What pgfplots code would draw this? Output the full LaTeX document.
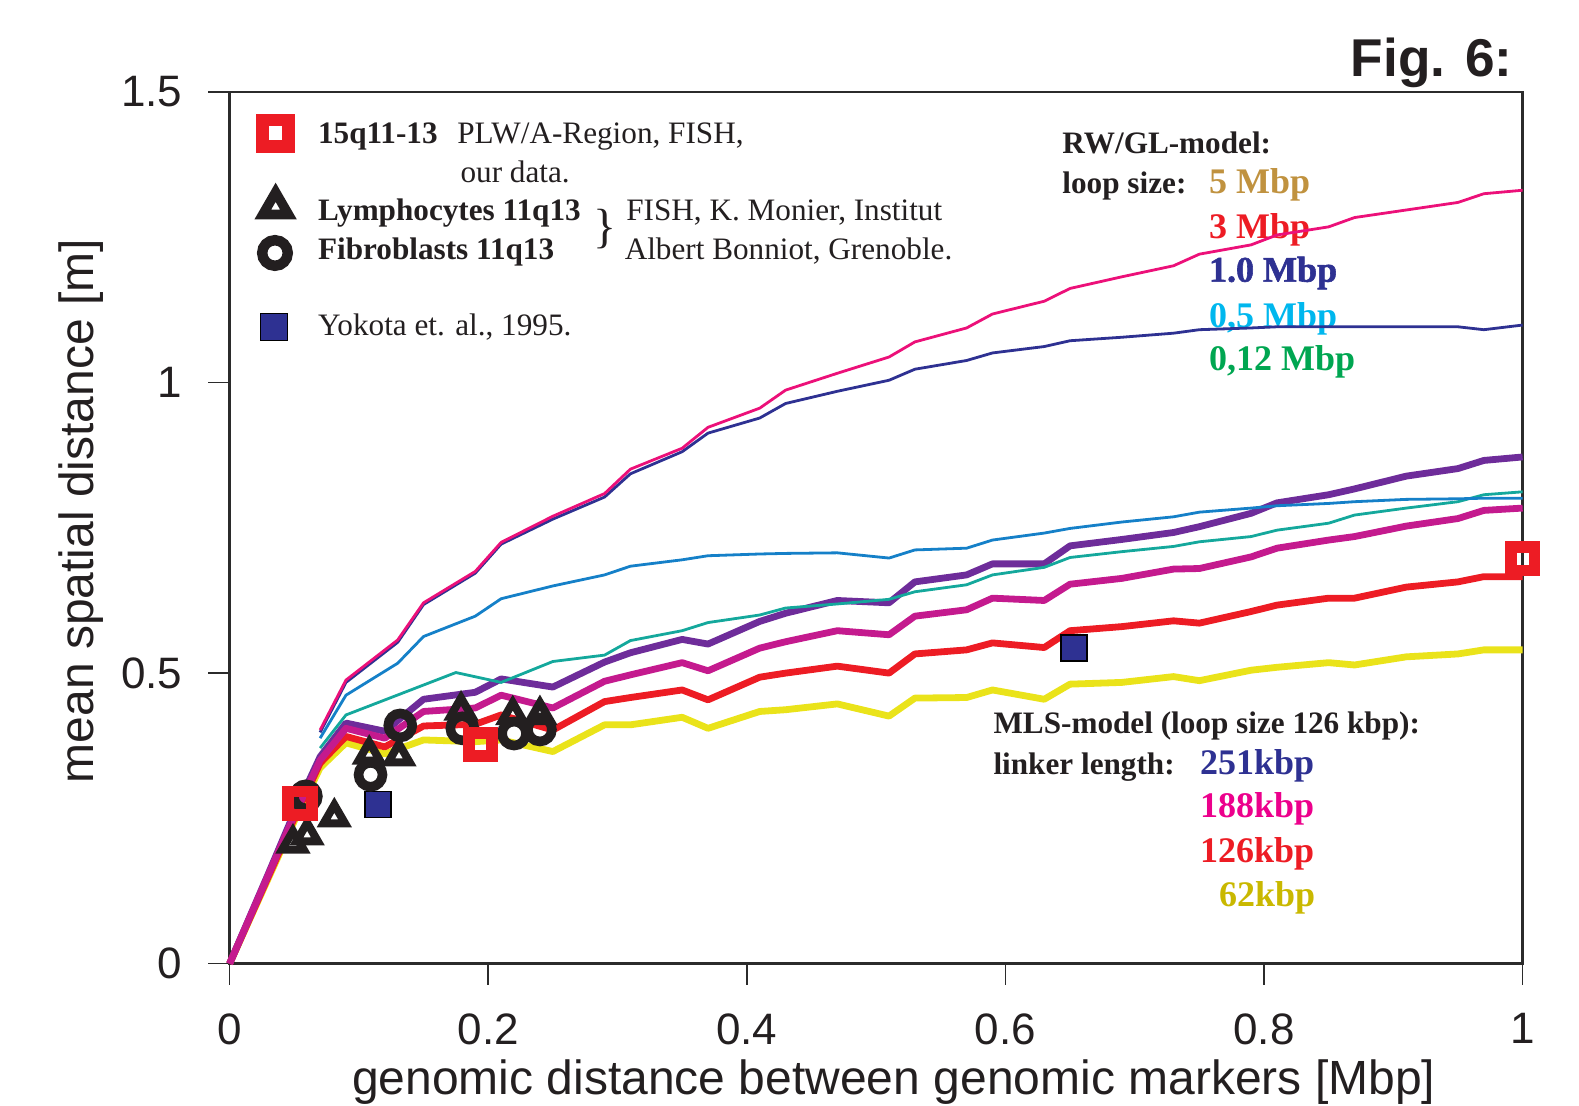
\documentclass[border=0pt]{standalone}
\usepackage{fontspec}
\setmainfont{Liberation Serif}
\setsansfont{Liberation Sans}
\newfontface\heavyserif[FakeBold=1.6]{Liberation Serif Bold}
\usepackage{pgfplots}
\pgfplotsset{compat=1.18}
\definecolor{axisgray}{HTML}{2B2B2B}
\definecolor{txtblack}{HTML}{231F20}
\definecolor{lpink}{HTML}{EC1079}
\definecolor{ldblue}{HTML}{2E3192}
\definecolor{llblue}{HTML}{1580C8}
\definecolor{lteal}{HTML}{14A89C}
\definecolor{lpurple}{HTML}{6E2C9A}
\definecolor{lmagenta}{HTML}{C41A8E}
\definecolor{lred}{HTML}{ED1C24}
\definecolor{lyellow}{HTML}{EAE31A}
\definecolor{ttan}{HTML}{C0923F}
\definecolor{tcyan}{HTML}{00B7EE}
\definecolor{tgreen}{HTML}{00A651}
\definecolor{tmag}{HTML}{EC008C}
\definecolor{tolive}{HTML}{C9B800}
\newcommand{\lgS}{\fontsize{7.8}{9}\selectfont}
\newcommand{\lgL}{\fontsize{9}{11}\selectfont}
\begin{document}
\begin{tikzpicture}
\begin{axis}[
  scale only axis, width=323.25pt, height=217.9pt,
  xmin=0, xmax=1, ymin=0, ymax=1.5,
  xtick={0,0.2,0.4,0.6,0.8,1}, ytick={0,0.5,1,1.5},
  tick align=outside, xtick pos=lower, ytick pos=left,
  major tick length=5.3pt,
  axis line style={line width=0.6pt, draw=axisgray},
  every tick/.style={line width=0.4pt, draw=axisgray},
  ticklabel style={font=\fontsize{11}{13}\selectfont\sffamily, text=txtblack},
  /pgf/number format/assume math mode=true,
  yticklabel style={xshift=-3pt},
  xticklabel style={yshift=-3.6pt},
  clip=false,
]
\coordinate (bbBL) at (axis cs:-0.17757,-0.24488);
\coordinate (bbTR) at (axis cs:1.04362,1.65841);

% ---- legend texts
\node[anchor=base west, font=\lgS\bfseries, text=txtblack, inner sep=0pt] at (axis cs:0.0678,1.4118) {15q11-13};
\node[anchor=base west, font=\lgS, text=txtblack, inner sep=0pt] at (axis cs:0.1755,1.4118) {PLW/A-Region, FISH,};
\node[anchor=base west, font=\lgS, text=txtblack, inner sep=0pt] at (axis cs:0.1780,1.3440) {our data.};
\node[anchor=base west, font=\lgS\bfseries, text=txtblack, inner sep=0pt] at (axis cs:0.0678,1.2790) {Lymphocytes 11q13};
\node[anchor=base west, font=\lgS\bfseries, text=txtblack, inner sep=0pt] at (axis cs:0.0678,1.2115) {Fibroblasts 11q13};
\node[font=\fontsize{12}{12}\selectfont, text=txtblack, inner sep=0pt] at (axis cs:0.2903,1.2640) {\}};
\node[anchor=base west, font=\lgS, text=txtblack, inner sep=0pt] at (axis cs:0.3062,1.2790) {FISH, K. Monier, Institut};
\node[anchor=base west, font=\lgS, text=txtblack, inner sep=0pt] at (axis cs:0.3050,1.2115) {Albert Bonniot, Grenoble.};
\node[anchor=base west, font=\lgS, text=txtblack, inner sep=0pt] at (axis cs:0.0678,1.0807) {Yokota et. al., 1995.};

\node[anchor=base west, font=\lgS\bfseries, text=txtblack, inner sep=0pt] at (axis cs:0.6435,1.3946) {RW/GL-model:};
\node[anchor=base west, font=\lgS\bfseries, text=txtblack, inner sep=0pt] at (axis cs:0.6435,1.3250) {loop size:};
\node[anchor=base west, font=\lgL\bfseries, text=ttan, inner sep=0pt] at (axis cs:0.7569,1.3250) {5 Mbp};
\node[anchor=base west, font=\lgL\bfseries, text=lred, inner sep=0pt] at (axis cs:0.7569,1.2480) {3 Mbp};
\node[anchor=base west, font=\lgL\heavyserif, text=ldblue, inner sep=0pt] at (axis cs:0.7569,1.1736) {1.0 Mbp};
\node[anchor=base west, font=\lgL\bfseries, text=tcyan, inner sep=0pt] at (axis cs:0.7569,1.0956) {0,5 Mbp};
\node[anchor=base west, font=\lgL\bfseries, text=tgreen, inner sep=0pt] at (axis cs:0.7569,1.0211) {0,12 Mbp};

\node[anchor=base west, font=\lgS\bfseries, text=txtblack, inner sep=0pt] at (axis cs:0.5902,0.3953) {MLS-model (loop size 126 kbp):};
\node[anchor=base west, font=\lgS\bfseries, text=txtblack, inner sep=0pt] at (axis cs:0.5902,0.3260) {linker length:};
\node[anchor=base west, font=\lgL\bfseries, text=ldblue, inner sep=0pt] at (axis cs:0.7500,0.3260) {251kbp};
\node[anchor=base west, font=\lgL\bfseries, text=tmag, inner sep=0pt] at (axis cs:0.7500,0.2510) {188kbp};
\node[anchor=base west, font=\lgL\bfseries, text=lred, inner sep=0pt] at (axis cs:0.7500,0.1740) {126kbp};
\node[anchor=base west, font=\lgL\bfseries, text=tolive, inner sep=0pt] at (axis cs:0.7647,0.0990) {62kbp};

% ---- title and axis labels
\node[anchor=base east, font=\fontsize{13.3}{15}\selectfont\sffamily\bfseries, text=txtblack, inner sep=0pt] at (axis cs:0.9928,1.5276) {Fig. 6:};
\node[rotate=90, anchor=base, font=\fontsize{12}{14}\selectfont\sffamily, text=txtblack, inner sep=0pt] at (axis cs:-0.1054,0.779) {mean spatial distance [m]};
\node[anchor=base, font=\fontsize{12}{14}\selectfont\sffamily, text=txtblack, inner sep=0pt] at (axis cs:0.5136,-0.2253) {genomic distance between genomic markers [Mbp]};

% ---- MLS model (thick)
\addplot[lyellow, line width=1.7pt, line join=round] coordinates {
(0,0)(0.03,0.147)(0.05,0.245)(0.07,0.337)(0.09,0.380)(0.12,0.361)(0.15,0.385)(0.19,0.382)(0.21,0.385)(0.25,0.365)(0.29,0.411)(0.31,0.411)(0.35,0.424)(0.37,0.405)(0.41,0.434)(0.43,0.437)(0.47,0.447)(0.51,0.426)(0.53,0.457)(0.57,0.458)(0.59,0.471)(0.63,0.455)(0.65,0.481)(0.69,0.484)(0.73,0.494)(0.75,0.487)(0.79,0.505)(0.81,0.510)(0.85,0.518)(0.87,0.514)(0.91,0.528)(0.95,0.533)(0.97,0.540)(1.00,0.540)};
\addplot[lred, line width=1.7pt, line join=round] coordinates {
(0,0)(0.03,0.150)(0.05,0.250)(0.07,0.345)(0.09,0.391)(0.12,0.373)(0.15,0.409)(0.19,0.412)(0.21,0.428)(0.25,0.402)(0.29,0.451)(0.31,0.458)(0.35,0.471)(0.37,0.454)(0.41,0.493)(0.43,0.500)(0.47,0.512)(0.51,0.500)(0.53,0.533)(0.57,0.540)(0.59,0.552)(0.63,0.544)(0.65,0.573)(0.69,0.580)(0.73,0.590)(0.75,0.586)(0.79,0.606)(0.81,0.617)(0.85,0.629)(0.87,0.629)(0.91,0.648)(0.95,0.657)(0.97,0.666)(1.00,0.666)};
\addplot[lpurple, line width=1.7pt, line join=round] coordinates {
(0,0)(0.03,0.155)(0.05,0.260)(0.07,0.356)(0.09,0.414)(0.12,0.400)(0.15,0.455)(0.19,0.467)(0.21,0.490)(0.25,0.476)(0.29,0.519)(0.31,0.535)(0.35,0.558)(0.37,0.550)(0.41,0.589)(0.43,0.603)(0.47,0.625)(0.51,0.621)(0.53,0.657)(0.57,0.669)(0.59,0.688)(0.63,0.688)(0.65,0.719)(0.69,0.730)(0.73,0.742)(0.75,0.752)(0.79,0.775)(0.81,0.793)(0.85,0.807)(0.87,0.817)(0.91,0.839)(0.95,0.852)(0.97,0.866)(1.00,0.872)};
\addplot[lmagenta, line width=1.7pt, line join=round] coordinates {
(0,0)(0.03,0.153)(0.05,0.255)(0.07,0.350)(0.09,0.405)(0.12,0.388)(0.15,0.434)(0.19,0.440)(0.21,0.462)(0.25,0.440)(0.29,0.486)(0.31,0.497)(0.35,0.518)(0.37,0.504)(0.41,0.543)(0.43,0.554)(0.47,0.573)(0.51,0.566)(0.53,0.598)(0.57,0.609)(0.59,0.629)(0.63,0.625)(0.65,0.653)(0.69,0.663)(0.73,0.679)(0.75,0.680)(0.79,0.700)(0.81,0.715)(0.85,0.729)(0.87,0.735)(0.91,0.753)(0.95,0.766)(0.97,0.780)(1.00,0.784)};

% ---- RW/GL model (thin)
\addplot[lteal, line width=0.7pt] coordinates {
(0.07,0.371)(0.09,0.428)(0.175,0.501)(0.21,0.484)(0.25,0.520)(0.29,0.531)(0.31,0.556)(0.35,0.573)(0.37,0.587)(0.41,0.600)(0.43,0.612)(0.47,0.619)(0.51,0.627)(0.53,0.640)(0.57,0.652)(0.59,0.669)(0.63,0.682)(0.65,0.699)(0.69,0.709)(0.73,0.718)(0.75,0.726)(0.79,0.735)(0.81,0.746)(0.85,0.758)(0.87,0.772)(0.91,0.784)(0.95,0.795)(0.97,0.807)(1.00,0.812)};
\addplot[llblue, line width=0.7pt] coordinates {
(0.07,0.388)(0.09,0.462)(0.13,0.517)(0.15,0.563)(0.19,0.598)(0.21,0.628)(0.25,0.650)(0.29,0.669)(0.31,0.684)(0.35,0.695)(0.37,0.702)(0.41,0.705)(0.43,0.706)(0.47,0.707)(0.51,0.698)(0.53,0.712)(0.57,0.715)(0.59,0.729)(0.63,0.741)(0.65,0.749)(0.69,0.760)(0.73,0.769)(0.75,0.777)(0.79,0.784)(0.81,0.788)(0.85,0.792)(0.87,0.795)(0.91,0.799)(0.95,0.800)(0.97,0.801)(1.00,0.801)};
\addplot[ldblue, line width=0.7pt] coordinates {
(0.07,0.398)(0.09,0.484)(0.13,0.553)(0.15,0.618)(0.19,0.672)(0.21,0.722)(0.25,0.765)(0.29,0.803)(0.31,0.843)(0.35,0.881)(0.37,0.913)(0.41,0.939)(0.43,0.964)(0.47,0.985)(0.51,1.004)(0.53,1.023)(0.57,1.038)(0.59,1.051)(0.63,1.062)(0.65,1.072)(0.69,1.078)(0.73,1.085)(0.75,1.091)(0.79,1.094)(0.81,1.096)(0.85,1.096)(0.87,1.096)(0.91,1.096)(0.95,1.096)(0.97,1.091)(1.00,1.099)};
\addplot[lpink, line width=0.7pt] coordinates {
(0.07,0.402)(0.09,0.488)(0.13,0.557)(0.15,0.621)(0.19,0.675)(0.21,0.725)(0.25,0.770)(0.29,0.809)(0.31,0.851)(0.35,0.887)(0.37,0.923)(0.41,0.956)(0.43,0.987)(0.47,1.016)(0.51,1.044)(0.53,1.070)(0.57,1.094)(0.59,1.118)(0.63,1.140)(0.65,1.162)(0.69,1.182)(0.73,1.201)(0.75,1.221)(0.79,1.237)(0.81,1.254)(0.85,1.268)(0.87,1.284)(0.91,1.297)(0.95,1.310)(0.97,1.325)(1.00,1.331)};

% ---- measured data
\addplot[only marks, mark=square*, mark size=3.25pt, mark options={draw=none, fill=ldblue}] coordinates {(0.1148,0.274)(0.653,0.543)};
\addplot[only marks, mark=square*, mark size=3.4pt, mark options={draw=none, fill=ldblue}] coordinates {(0.0343,1.0957)};
\addplot[only marks, mark=o, mark size=3.0pt, mark options={draw=txtblack, fill=white, line width=2.4pt}] coordinates {(0.059,0.288)(0.109,0.325)(0.132,0.410)(0.180,0.405)(0.220,0.396)(0.240,0.403)};
\addplot[only marks, mark=o, mark size=3.2pt, mark options={draw=txtblack, fill=white, line width=2.6pt}] coordinates {(0.0351,1.223)};
\addplot[only marks, mark=triangle, mark size=3.1pt, mark options={draw=txtblack, fill=white, line width=2.0pt, line join=miter, miter limit=10}] coordinates {(0.049,0.207)(0.060,0.221)(0.081,0.252)(0.108,0.360)(0.131,0.357)(0.179,0.436)(0.219,0.428)(0.240,0.428)};
\addplot[only marks, mark=triangle, mark size=3.7pt, mark options={draw=txtblack, fill=white, line width=2.4pt, line join=miter, miter limit=10}] coordinates {(0.0356,1.302)};
\addplot[only marks, mark=square, mark size=2.95pt, mark options={draw=lred, fill=white, line width=2.95pt, line join=miter}] coordinates {(0.0545,0.276)(0.194,0.377)(1.0,0.697)};
\addplot[only marks, mark=square, mark size=3.3pt, mark options={draw=lred, fill=white, line width=3.2pt, line join=miter}] coordinates {(0.0356,1.429)};
\end{axis}
\pgfresetboundingbox
\path (bbBL) rectangle (bbTR);
\end{tikzpicture}
\end{document}
